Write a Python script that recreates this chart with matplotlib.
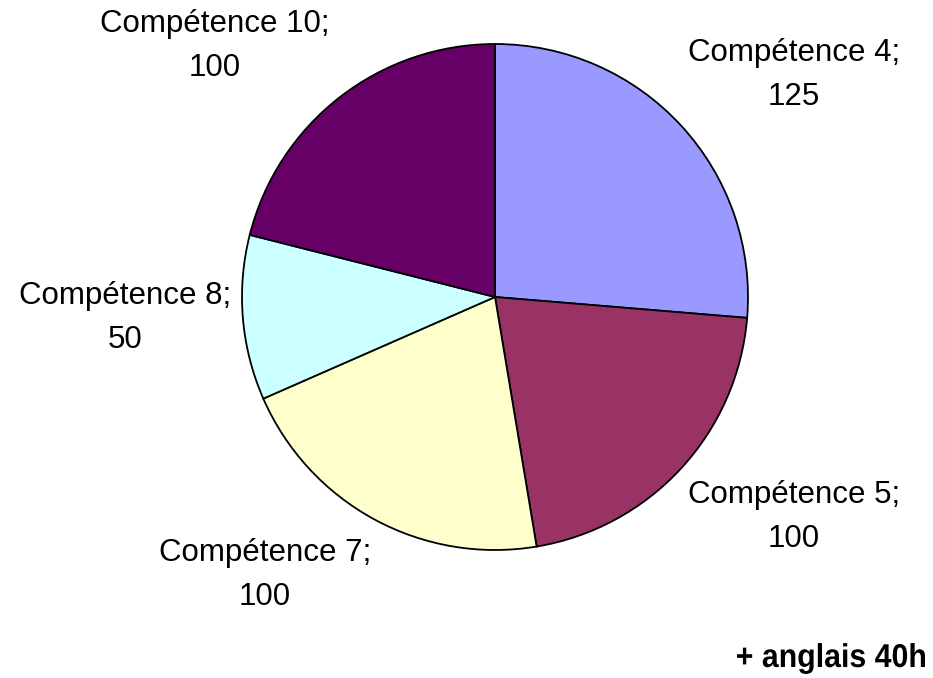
import matplotlib
matplotlib.use("Agg")
import matplotlib.pyplot as plt
from matplotlib.textpath import TextPath
from matplotlib.patches import PathPatch
from matplotlib.font_manager import FontProperties
from matplotlib.transforms import Affine2D, IdentityTransform

labels = ["Compétence 4", "Compétence 5", "Compétence 7", "Compétence 8", "Compétence 10"]
values = [125, 100, 100, 50, 100]
colors = ["#9999FF", "#993366", "#FFFFCC", "#CCFFFF", "#660066"]
note = "+ anglais 40h"

W, H = 933, 678
fig = plt.figure(figsize=(W / 100, H / 100), dpi=100)
plt.rcParams['font.family'] = ['Liberation Sans', 'DejaVu Sans']

cx, cy, r = 495, 297, 253
ax = fig.add_axes([(cx - r) / W, (H - cy - r) / H, 2 * r / W, 2 * r / H])
ax.pie(values, colors=colors, startangle=90, counterclock=False,
       wedgeprops=dict(edgecolor="black", linewidth=1.3), radius=1)
ax.set_xlim(-1, 1)
ax.set_ylim(-1, 1)
ax.set_aspect("equal")
ax.axis("off")

label_pos = [(794, 75), (794, 517), (265, 575), (125, 318), (215, 46)]
for lab, v, (px, py) in zip(labels, values, label_pos):
    fig.text(px / W, 1 - py / H, f"{lab};\n{v}", ha="center", va="center",
             fontsize=22.5, linespacing=1.58, color="black")

# condensed bold note, drawn in pixel coordinates
tp = TextPath((0, 0), note, size=33,
              prop=FontProperties(family='Liberation Sans', weight='bold'))
ext = tp.get_extents()
target_left, target_right, baseline = 737, 925, 667
sx = (target_right - target_left) / ext.width
trans = (Affine2D().translate(-ext.x0, 0).scale(sx, 1)
         .translate(target_left, H - baseline) + IdentityTransform())
fig.patches.append(PathPatch(tp, transform=trans, facecolor="black",
                             edgecolor="none", figure=fig))

fig.savefig("out.png", dpi=100)
